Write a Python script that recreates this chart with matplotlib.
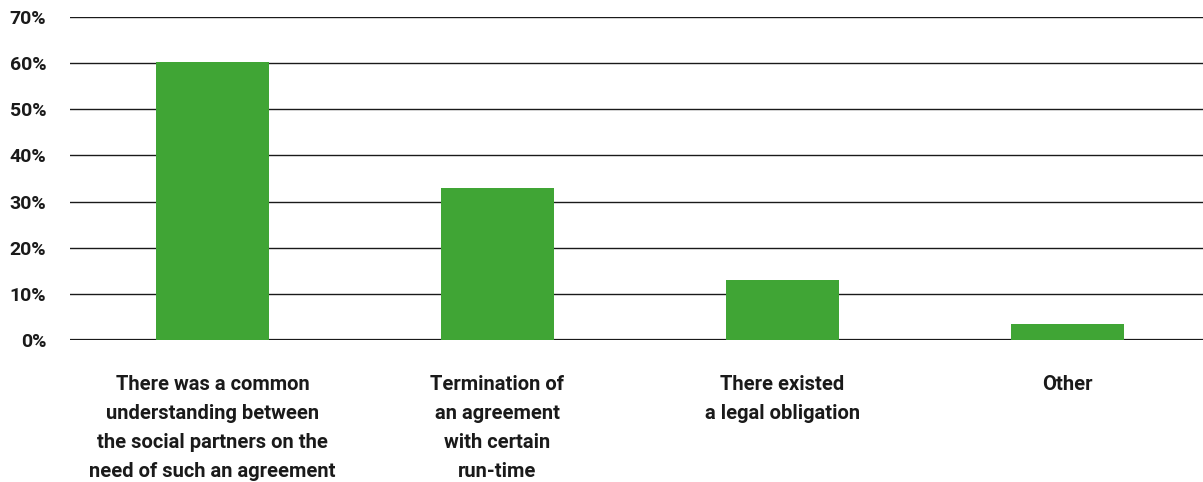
import matplotlib
matplotlib.use("Agg")
import matplotlib.pyplot as plt
import numpy as np

# values
categories = [
    "There was a common\nunderstanding between\nthe social partners on the\nneed of such an agreement",
    "Termination of\nan agreement\nwith certain\nrun-time",
    "There existed\na legal obligation",
    "Other",
]
shares = [60.3, 33.0, 13.0, 3.5]
yticks = [0, 10, 20, 30, 40, 50, 60, 70]

plt.rcParams["font.family"] = ["Roboto", "DejaVu Sans"]

fig = plt.figure(figsize=(12.03, 4.82), dpi=100)
# axis runs a little past the right edge of the figure, as in the original
ax = fig.add_axes([70 / 1203, (482 - 340) / 482, 1140 / 1203, 323 / 482])

x = np.arange(len(categories))
ax.bar(x, shares, width=0.393, color="#40a535", zorder=3)

ax.set_xlim(-0.5, len(categories) - 0.5)
ax.set_ylim(0, 70)
ax.set_yticks(yticks)
ax.set_yticklabels([f"{v}%" for v in yticks], fontsize=14, fontweight="bold", color="#1a1a1a")
for v in yticks:
    ax.axhline(v, color="#1a1a1a", lw=1.6 if v == 0 else 1.0, zorder=2)

ax.set_xticks(x)
ax.set_xticklabels(categories, fontsize=14.5, fontweight="bold", color="#1a1a1a",
                   linespacing=1.65, va="top")
ax.tick_params(axis="x", length=0, pad=25.5)
ax.tick_params(axis="y", length=0, pad=17)
for sp in ax.spines.values():
    sp.set_visible(False)

fig.savefig("out.png", dpi=100)
